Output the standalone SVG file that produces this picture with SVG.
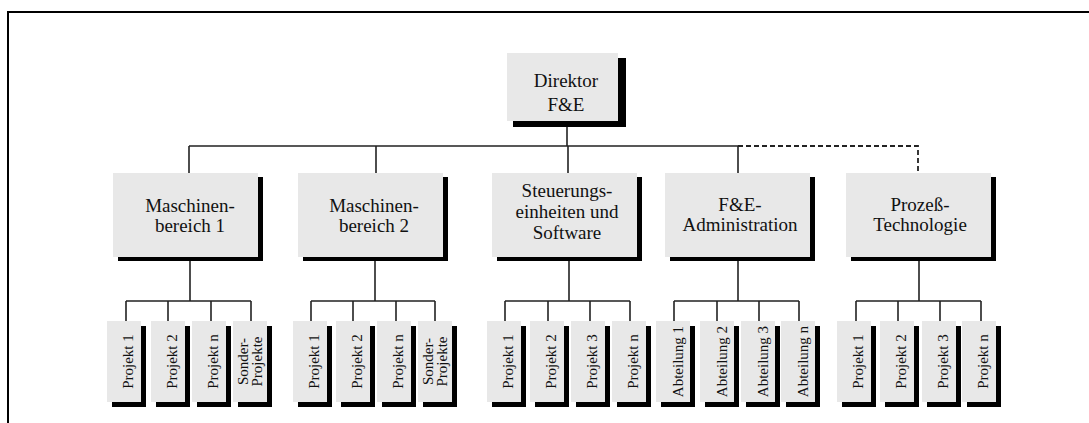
<svg xmlns="http://www.w3.org/2000/svg" width="1089" height="423" viewBox="0 0 1089 423">
  <style>
    .box { fill: #e8e8e8; }
    .shadow { fill: #000; }
    .lbl { font-family: "Liberation Serif", "Times New Roman", serif; font-size: 19px; fill: #111; text-anchor: middle; }
    .sub { font-family: "Liberation Serif", "Times New Roman", serif; font-size: 15px; fill: #111; text-anchor: middle; }
    .ln { fill: none; stroke: #222; stroke-width: 1.6; }
    .dash { fill: none; stroke: #222; stroke-width: 1.8; stroke-dasharray: 5 3; }
  </style>

  <!-- frame (top and left edges) -->
  <path d="M8,423 V12 H1089" fill="none" stroke="#000" stroke-width="2"/>

  <!-- connectors -->
  <g id="connectors">
    <path class="ln" d="M567,121 V146 M189,146 H738 M189,146 V173 M376,146 V173 M568,146 V173 M738,146 V173"/>
    <path class="dash" d="M738,146 H918 V173"/>
    <!-- group 1 -->
    <path class="ln" d="M190,257 V301 M126,301 H251 M126,301 V321 M168,301 V321 M211,301 V321 M251,301 V321"/>
    <!-- group 2 -->
    <path class="ln" d="M375,257 V301 M311,301 H435 M311,301 V321 M353,301 V321 M396,301 V321 M435,301 V321"/>
    <!-- group 3 -->
    <path class="ln" d="M569,257 V301 M505,301 H630 M505,301 V321 M548,301 V321 M590,301 V321 M630,301 V321"/>
    <!-- group 4 -->
    <path class="ln" d="M738,257 V301 M674,301 H799 M674,301 V321 M717,301 V321 M759,301 V321 M799,301 V321"/>
    <!-- group 5 -->
    <path class="ln" d="M919,257 V301 M856,301 H981 M856,301 V321 M898,301 V321 M940,301 V321 M981,301 V321"/>
  </g>

  <!-- top -->
  <g id="direktor">
    <rect class="shadow" x="513" y="58" width="113" height="69"/>
    <rect class="box" x="507" y="53" width="111" height="68"/>
    <text class="lbl" x="566" y="87">Direktor</text>
    <text class="lbl" x="566" y="111">F&amp;E</text>
  </g>

  <!-- second level -->
  <g id="maschinenbereich1">
    <rect class="shadow" x="118" y="177" width="145" height="84"/>
    <rect class="box" x="113" y="173" width="145" height="84"/>
    <text class="lbl" x="190" y="212">Maschinen-</text>
    <text class="lbl" x="190" y="232">bereich 1</text>
  </g>
  <g id="maschinenbereich2">
    <rect class="shadow" x="303" y="177" width="145" height="84"/>
    <rect class="box" x="298" y="173" width="145" height="84"/>
    <text class="lbl" x="374" y="212">Maschinen-</text>
    <text class="lbl" x="374" y="232">bereich 2</text>
  </g>
  <g id="steuerung">
    <rect class="shadow" x="497" y="177" width="145" height="84"/>
    <rect class="box" x="492" y="173" width="145" height="84"/>
    <text class="lbl" x="567" y="197">Steuerungs-</text>
    <text class="lbl" x="567" y="218">einheiten und</text>
    <text class="lbl" x="567" y="239">Software</text>
  </g>
  <g id="fe-administration">
    <rect class="shadow" x="670" y="177" width="145" height="84"/>
    <rect class="box" x="665" y="173" width="145" height="84"/>
    <text class="lbl" x="740" y="211">F&amp;E-</text>
    <text class="lbl" x="740" y="231">Administration</text>
  </g>
  <g id="prozesstechnologie">
    <rect class="shadow" x="851" y="177" width="145" height="84"/>
    <rect class="box" x="846" y="173" width="145" height="84"/>
    <text class="lbl" x="920" y="211">Prozeß-</text>
    <text class="lbl" x="920" y="231">Technologie</text>
  </g>

  <!-- third level: group 1 -->
  <g id="g1-projekt1">
    <rect class="shadow" x="112" y="326" width="34" height="81"/>
    <rect class="box" x="107" y="321" width="34" height="81"/>
    <text class="sub" transform="translate(133,361.5) rotate(-90)">Projekt 1</text>
  </g>
  <g id="g1-projekt2">
    <rect class="shadow" x="156" y="326" width="34" height="81"/>
    <rect class="box" x="151" y="321" width="34" height="81"/>
    <text class="sub" transform="translate(177,361.5) rotate(-90)">Projekt 2</text>
  </g>
  <g id="g1-projektn">
    <rect class="shadow" x="197" y="326" width="34" height="81"/>
    <rect class="box" x="192" y="321" width="34" height="81"/>
    <text class="sub" transform="translate(218,361.5) rotate(-90)">Projekt n</text>
  </g>
  <g id="g1-sonderprojekte">
    <rect class="shadow" x="238" y="326" width="34" height="81"/>
    <rect class="box" x="233" y="321" width="34" height="81"/>
    <text class="sub" transform="translate(248,361.5) rotate(-90)">Sonder-</text>
    <text class="sub" transform="translate(262,361.5) rotate(-90)">Projekte</text>
  </g>

  <!-- group 2 -->
  <g id="g2-projekt1">
    <rect class="shadow" x="298" y="326" width="34" height="81"/>
    <rect class="box" x="293" y="321" width="34" height="81"/>
    <text class="sub" transform="translate(319,361.5) rotate(-90)">Projekt 1</text>
  </g>
  <g id="g2-projekt2">
    <rect class="shadow" x="341" y="326" width="34" height="81"/>
    <rect class="box" x="336" y="321" width="34" height="81"/>
    <text class="sub" transform="translate(362,361.5) rotate(-90)">Projekt 2</text>
  </g>
  <g id="g2-projektn">
    <rect class="shadow" x="382" y="326" width="34" height="81"/>
    <rect class="box" x="377" y="321" width="34" height="81"/>
    <text class="sub" transform="translate(403,361.5) rotate(-90)">Projekt n</text>
  </g>
  <g id="g2-sonderprojekte">
    <rect class="shadow" x="423" y="326" width="34" height="81"/>
    <rect class="box" x="418" y="321" width="34" height="81"/>
    <text class="sub" transform="translate(433,361.5) rotate(-90)">Sonder-</text>
    <text class="sub" transform="translate(447,361.5) rotate(-90)">Projekte</text>
  </g>

  <!-- group 3 -->
  <g id="g3-projekt1">
    <rect class="shadow" x="492" y="326" width="34" height="81"/>
    <rect class="box" x="487" y="321" width="34" height="81"/>
    <text class="sub" transform="translate(513,361.5) rotate(-90)">Projekt 1</text>
  </g>
  <g id="g3-projekt2">
    <rect class="shadow" x="535" y="326" width="34" height="81"/>
    <rect class="box" x="530" y="321" width="34" height="81"/>
    <text class="sub" transform="translate(556,361.5) rotate(-90)">Projekt 2</text>
  </g>
  <g id="g3-projekt3">
    <rect class="shadow" x="576" y="326" width="34" height="81"/>
    <rect class="box" x="571" y="321" width="34" height="81"/>
    <text class="sub" transform="translate(597,361.5) rotate(-90)">Projekt 3</text>
  </g>
  <g id="g3-projektn">
    <rect class="shadow" x="617" y="326" width="34" height="81"/>
    <rect class="box" x="612" y="321" width="34" height="81"/>
    <text class="sub" transform="translate(638,361.5) rotate(-90)">Projekt n</text>
  </g>

  <!-- group 4 -->
  <g id="g4-abteilung1">
    <rect class="shadow" x="661" y="326" width="34" height="81"/>
    <rect class="box" x="656" y="321" width="34" height="81"/>
    <text class="sub" transform="translate(683,361.5) rotate(-90)">Abteilung 1</text>
  </g>
  <g id="g4-abteilung2">
    <rect class="shadow" x="705" y="326" width="34" height="81"/>
    <rect class="box" x="700" y="321" width="34" height="81"/>
    <text class="sub" transform="translate(727,361.5) rotate(-90)">Abteilung 2</text>
  </g>
  <g id="g4-abteilung3">
    <rect class="shadow" x="746" y="326" width="34" height="81"/>
    <rect class="box" x="741" y="321" width="34" height="81"/>
    <text class="sub" transform="translate(768,361.5) rotate(-90)">Abteilung 3</text>
  </g>
  <g id="g4-abteilungn">
    <rect class="shadow" x="786" y="326" width="34" height="81"/>
    <rect class="box" x="781" y="321" width="34" height="81"/>
    <text class="sub" transform="translate(808,361.5) rotate(-90)">Abteilung n</text>
  </g>

  <!-- group 5 -->
  <g id="g5-projekt1">
    <rect class="shadow" x="842" y="326" width="34" height="81"/>
    <rect class="box" x="837" y="321" width="34" height="81"/>
    <text class="sub" transform="translate(863,361.5) rotate(-90)">Projekt 1</text>
  </g>
  <g id="g5-projekt2">
    <rect class="shadow" x="885" y="326" width="34" height="81"/>
    <rect class="box" x="880" y="321" width="34" height="81"/>
    <text class="sub" transform="translate(906,361.5) rotate(-90)">Projekt 2</text>
  </g>
  <g id="g5-projekt3">
    <rect class="shadow" x="927" y="326" width="34" height="81"/>
    <rect class="box" x="922" y="321" width="34" height="81"/>
    <text class="sub" transform="translate(948,361.5) rotate(-90)">Projekt 3</text>
  </g>
  <g id="g5-projektn">
    <rect class="shadow" x="967" y="326" width="34" height="81"/>
    <rect class="box" x="962" y="321" width="34" height="81"/>
    <text class="sub" transform="translate(988,361.5) rotate(-90)">Projekt n</text>
  </g>
</svg>
